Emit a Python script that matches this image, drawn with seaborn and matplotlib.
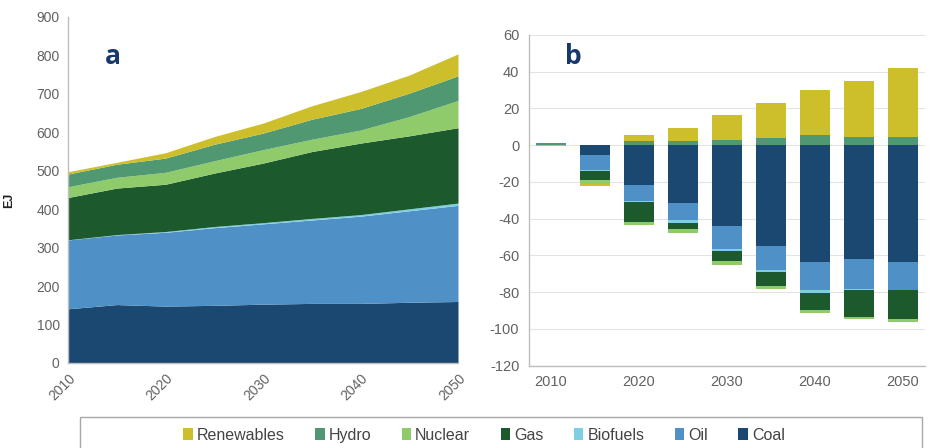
import matplotlib
matplotlib.use("Agg")
import matplotlib.pyplot as plt
from matplotlib.patches import Rectangle, Patch
import seaborn as sns

# ---- data -------------------------------------------------------------
sources = ["Coal", "Oil", "Biofuels", "Gas", "Nuclear", "Hydro", "Renewables"]
colors = {
    "Coal": "#1B4870",
    "Oil": "#4F91C7",
    "Biofuels": "#7FCFE4",
    "Gas": "#1C5A2E",
    "Nuclear": "#8FCB6B",
    "Hydro": "#4F9872",
    "Renewables": "#CDBE2B",
}

years = [2010, 2015, 2020, 2025, 2030, 2035, 2040, 2045, 2050]

# (a) primary energy by source, EJ
coal = [141, 152, 148, 150, 153, 155, 155, 158, 160]
oil = [179, 181, 192, 202, 209, 217, 227, 238, 250]
biofuels = [0.5, 1, 2, 3, 3, 4, 4, 5, 6]
gas = [110, 121, 123, 139, 155, 174, 186, 190, 196]
nuclear = [28, 28, 31, 32, 35, 32, 34, 50, 71]
hydro = [33, 34, 37, 43, 43, 52, 56, 61, 64]
renewables = [6, 5, 14, 20, 26, 35, 44, 47, 57]

# (b) difference by source, EJ
coal_d = [0, -5.5, -21.8, -31.5, -44.0, -54.7, -63.5, -62.0, -63.5]
oil_d = [0, -8.2, -8.6, -9.0, -12.4, -13.1, -15.2, -16.4, -15.2]
biofuels_d = [0, -0.5, -0.4, -1.8, -1.4, -1.5, -1.8, -0.4, -0.4]
gas_d = [0, -4.5, -11.1, -3.3, -5.3, -7.6, -9.5, -14.6, -15.5]
nuclear_d = [0, -2.4, -1.5, -2.2, -2.4, -1.6, -1.3, -1.2, -1.5]
hydro_d = [1.2, 0.3, 2.2, 2.5, 3.0, 3.8, 5.5, 4.7, 4.7]
renewables_d = [-0.6, -1.0, 3.3, 6.6, 13.4, 18.9, 24.5, 30.2, 37.5]

levels = {"Coal": coal, "Oil": oil, "Biofuels": biofuels, "Gas": gas,
          "Nuclear": nuclear, "Hydro": hydro, "Renewables": renewables}
deltas = {"Coal": coal_d, "Oil": oil_d, "Biofuels": biofuels_d, "Gas": gas_d,
          "Nuclear": nuclear_d, "Hydro": hydro_d, "Renewables": renewables_d}

legend_order = ["Renewables", "Hydro", "Nuclear", "Gas", "Biofuels", "Oil", "Coal"]

# ---- style ------------------------------------------------------------
sns.set_theme(style="white")
plt.rcParams["font.family"] = ["Liberation Sans", "DejaVu Sans"]
plt.rcParams["axes.unicode_minus"] = False
tick_color = "#626262"
spine_color = "#BDBDBD"

W, H = 930, 448
fig = plt.figure(figsize=(W / 100, H / 100), dpi=100)

# ---- panel a: stacked area --------------------------------------------
axA = fig.add_axes([68 / W, 1 - 363 / H, (458 - 68) / W, (363 - 17) / H])
axA.stackplot(years, [levels[s] for s in sources],
              colors=[colors[s] for s in sources], linewidth=0)
axA.set_xlim(2010, 2050)
axA.set_ylim(0, 900)
axA.set_yticks(range(0, 901, 100))
axA.set_xticks([2010, 2020, 2030, 2040, 2050])
axA.set_xticks([2012.5 + 5 * k for k in range(8)], minor=True)
axA.tick_params(axis="x", which="major", length=0, pad=6, labelsize=10,
                labelcolor=tick_color)
axA.tick_params(axis="x", which="minor", length=4, width=0.8,
                color=spine_color, direction="out")
axA.tick_params(axis="y", length=0, pad=6, labelsize=10, labelcolor=tick_color)
for lab in axA.get_xticklabels():
    lab.set_rotation(45)
    lab.set_ha("right")
    lab.set_rotation_mode("anchor")
sns.despine(ax=axA)
for side in ("left", "bottom"):
    axA.spines[side].set_color(spine_color)
    axA.spines[side].set_linewidth(1.0)
axA.set_ylabel("EJ", fontsize=9, fontweight="bold", color="#222222")
axA.yaxis.set_label_coords(-0.135, 0.47)
axA.text(113 / W, 1 - 57 / H, "a", transform=fig.transFigure,
         fontsize=19, fontweight="bold", color="#17386B",
         family=["Open Sans", "DejaVu Sans"], ha="center", va="center")

# ---- panel b: diverging stacked bars ----------------------------------
axB = fig.add_axes([529 / W, 1 - 365.5 / H, (925 - 529) / W, (365.5 - 35) / H])
pos = list(range(len(years)))
pos_base = [0.0] * len(years)
neg_base = [0.0] * len(years)
for s in sources:
    vals = deltas[s]
    bottoms = []
    for i, v in enumerate(vals):
        if v >= 0:
            bottoms.append(pos_base[i])
            pos_base[i] += v
        else:
            bottoms.append(neg_base[i])
            neg_base[i] += v
    axB.bar(pos, vals, bottom=bottoms, width=0.68, color=colors[s],
            linewidth=0, zorder=3)
axB.set_xlim(-0.5, len(years) - 0.5)
axB.set_ylim(-120, 60)
axB.set_yticks(range(-120, 61, 20))
axB.set_xticks(pos[::2])
axB.set_xticklabels([str(y) for y in years[::2]])
axB.yaxis.grid(True, color="#E3E3E3", linewidth=0.8, zorder=0)
axB.tick_params(axis="both", length=0, pad=7, labelsize=10.5,
                labelcolor=tick_color)
sns.despine(ax=axB)
for side in ("left", "bottom"):
    axB.spines[side].set_color(spine_color)
    axB.spines[side].set_linewidth(1.0)
axB.text(573 / W, 1 - 57 / H, "b", transform=fig.transFigure,
         fontsize=19, fontweight="bold", color="#17386B",
         family=["Open Sans", "DejaVu Sans"], ha="center", va="center")

# ---- shared legend ----------------------------------------------------
fig.patches.append(Rectangle((80 / W, -0.05), (922 - 80) / W, 0.05 + (448 - 417) / H,
                             transform=fig.transFigure, fill=False,
                             edgecolor="#A8A8A8", linewidth=1.0))
handles = [Patch(facecolor=colors[s], edgecolor="none") for s in legend_order]
fig.legend(handles, legend_order, loc="center", ncol=7, frameon=False,
           bbox_to_anchor=(484 / W, 1 - 435 / H), fontsize=11.5,
           handlelength=0.6, handleheight=0.75, handletextpad=0.25,
           columnspacing=1.9, labelcolor="#444444")

fig.savefig("out.png", dpi=100)
